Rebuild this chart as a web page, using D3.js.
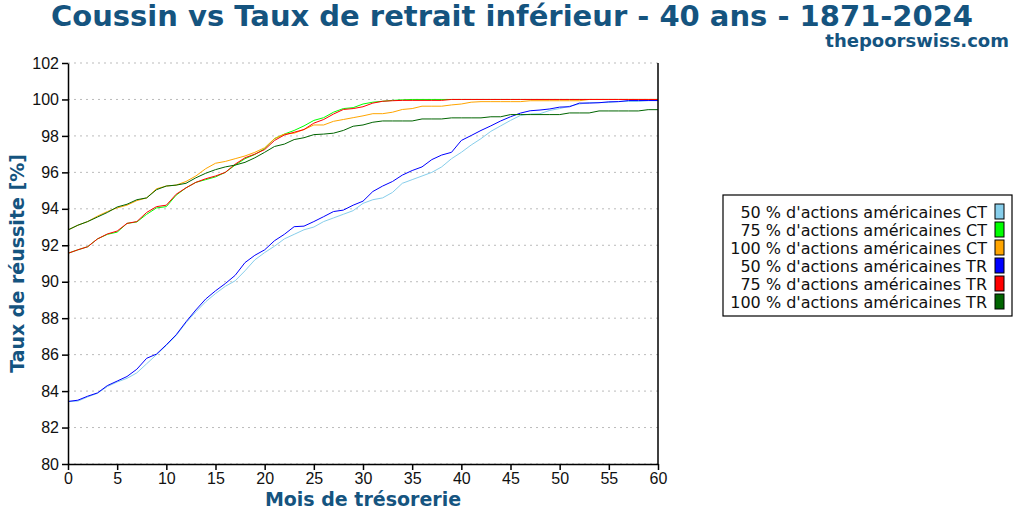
<!DOCTYPE html>
<html>
<head>
<meta charset="utf-8">
<script src="https://cdn.jsdelivr.net/npm/d3@7"></script>
<style>
  body { margin: 0; background: #fff; }
  svg { font-family: "DejaVu Sans", sans-serif; }
  .grid line { stroke: #bbb; stroke-dasharray: 2,4; }
  .axis text { font-size: 16px; fill: #111; }
  .axis path, .axis line { stroke: #000; stroke-width: 1.5; }
</style>
</head>
<body>
<div id="chart"></div>
<script>
const months = d3.range(0, 61);

const ct50 = [83.43, 83.45, 83.68, 83.88, 84.25, 84.5, 84.7, 85.0, 85.5, 86.0,
  86.5, 87.05, 87.75, 88.35, 88.9, 89.35, 89.75, 90.05, 90.6, 91.2,
  91.6, 91.95, 92.35, 92.6, 92.85, 93.0, 93.3, 93.5, 93.7, 93.9,
  94.3, 94.5, 94.6, 94.9, 95.4, 95.6, 95.8, 96.0, 96.3, 96.75,
  97.1, 97.5, 97.85, 98.25, 98.55, 98.85, 99.12, 99.2, 99.22, 99.4,
  99.5, 99.63, 99.75, 99.83, 99.83, 99.83, 99.89, 99.89, 99.89, 99.94, 99.94];
const ct75 = [91.56, 91.75, 91.92, 92.35, 92.6, 92.72, 93.2, 93.28, 93.7, 94.05,
  94.12, 94.75, 95.15, 95.45, 95.6, 95.75, 96.0, 96.4, 96.75, 96.98,
  97.3, 97.85, 98.1, 98.3, 98.55, 98.85, 99.0, 99.3, 99.5, 99.55,
  99.75, 99.85, 99.9, 99.95, 99.98, 100, 100, 100, 100, 100,
  100, 100, 100, 100, 100, 100, 100, 100, 100, 100,
  100, 100, 100, 100, 100, 100, 100, 100, 100, 100, 100];
const ct100 = [92.84, 93.1, 93.3, 93.6, 93.85, 94.05, 94.2, 94.45, 94.6, 95.1,
  95.25, 95.3, 95.5, 95.8, 96.2, 96.5, 96.6, 96.75, 96.9, 97.1,
  97.35, 97.85, 98.1, 98.15, 98.35, 98.6, 98.6, 98.8, 98.9, 99.0,
  99.1, 99.22, 99.22, 99.3, 99.45, 99.5, 99.63, 99.63, 99.63, 99.7,
  99.75, 99.85, 99.88, 99.88, 99.88, 99.88, 99.88, 99.93, 99.93, 99.93,
  99.93, 99.93, 99.93, 100, 100, 100, 100, 100, 100, 100, 100];
const tr50 = [83.43, 83.5, 83.72, 83.9, 84.3, 84.55, 84.8, 85.2, 85.8, 86.03,
  86.54, 87.09, 87.8, 88.45, 89.05, 89.5, 89.9, 90.35, 91.05, 91.45,
  91.75, 92.25, 92.6, 93.02, 93.05, 93.3, 93.57, 93.85, 93.93, 94.2,
  94.42, 94.95, 95.25, 95.5, 95.85, 96.1, 96.3, 96.7, 96.95, 97.1,
  97.75, 98.02, 98.3, 98.55, 98.82, 99.05, 99.25, 99.38, 99.42, 99.48,
  99.58, 99.6, 99.8, 99.8, 99.82, 99.87, 99.88, 99.94, 99.94, 99.94, 99.94];
const tr75 = [91.56, 91.75, 91.92, 92.35, 92.62, 92.78, 93.2, 93.3, 93.8, 94.12,
  94.2, 94.8, 95.15, 95.45, 95.65, 95.8, 96.0, 96.45, 96.8, 97.0,
  97.25, 97.75, 98.05, 98.2, 98.35, 98.7, 98.9, 99.2, 99.45, 99.5,
  99.6, 99.8, 99.9, 99.93, 99.95, 99.95, 99.95, 99.95, 99.95, 100,
  100, 100, 100, 100, 100, 100, 100, 100, 100, 100,
  100, 100, 100, 100, 100, 100, 100, 100, 100, 100, 100];
const tr100 = [92.84, 93.1, 93.3, 93.55, 93.8, 94.1, 94.25, 94.5, 94.6, 95.05,
  95.25, 95.3, 95.4, 95.7, 95.95, 96.15, 96.3, 96.4, 96.55, 96.8,
  97.1, 97.42, 97.55, 97.8, 97.9, 98.07, 98.1, 98.15, 98.3, 98.53,
  98.6, 98.75, 98.82, 98.82, 98.82, 98.82, 98.93, 98.93, 98.93, 98.99,
  98.99, 98.99, 98.99, 99.05, 99.05, 99.17, 99.17, 99.17, 99.17, 99.17,
  99.17, 99.26, 99.26, 99.26, 99.37, 99.37, 99.37, 99.37, 99.37, 99.44, 99.44];

const seriesNames = [
  "50 % d'actions américaines CT",
  "75 % d'actions américaines CT",
  "100 % d'actions américaines CT",
  "50 % d'actions américaines TR",
  "75 % d'actions américaines TR",
  "100 % d'actions américaines TR"
];
const seriesValues = [ct50, ct75, ct100, tr50, tr75, tr100];
const seriesColors = ["#87ceeb", "#00ff00", "#ffa500", "#0000ff", "#ff0000", "#006400"];

const xTicks = d3.range(0, 61, 5);
const yTicks = d3.range(80, 103, 2);

const titleText = "Coussin vs Taux de retrait inférieur - 40 ans - 1871-2024";
const siteText = "thepoorswiss.com";
const xLabel = "Mois de trésorerie";
const yLabel = "Taux de réussite [%]";
const titleColor = "#15547f";

const W = 1024, H = 512;
const margin = { top: 63, right: 366, bottom: 48, left: 68 };

const svg = d3.select("#chart").append("svg")
  .attr("width", W)
  .attr("height", H);

const x = d3.scaleLinear().domain([0, 60]).range([margin.left, W - margin.right]);
const y = d3.scaleLinear().domain([80, 102]).range([H - margin.bottom, margin.top]);

// gridlines
svg.append("g")
  .attr("class", "grid")
  .selectAll("line")
  .data(yTicks)
  .join("line")
  .attr("x1", x(0))
  .attr("x2", x(60))
  .attr("y1", d => y(d))
  .attr("y2", d => y(d));

const line = d3.line()
  .x((d, i) => x(months[i]))
  .y(d => y(d));

svg.append("g")
  .selectAll("path")
  .data(seriesValues)
  .join("path")
  .attr("fill", "none")
  .attr("stroke", (d, i) => seriesColors[i])
  .attr("stroke-width", 1)
  .attr("d", line);

// axes
svg.append("g")
  .attr("class", "axis")
  .attr("transform", "translate(0," + y(80) + ")")
  .call(d3.axisBottom(x).tickValues(xTicks).tickSize(6).tickSizeOuter(0).tickPadding(3));

svg.append("g")
  .attr("class", "axis")
  .attr("transform", "translate(" + x(0) + ",0)")
  .call(d3.axisLeft(y).tickValues(yTicks).tickSize(6).tickSizeOuter(0).tickPadding(3));

// right border
svg.append("line")
  .attr("x1", x(60)).attr("x2", x(60))
  .attr("y1", y(102)).attr("y2", y(80))
  .attr("stroke", "#000")
  .attr("stroke-width", 1.5);

// titles
svg.append("text")
  .attr("x", 512)
  .attr("y", 26)
  .attr("text-anchor", "middle")
  .attr("font-size", 29)
  .attr("font-weight", "bold")
  .attr("fill", titleColor)
  .text(titleText);

svg.append("text")
  .attr("x", 1009)
  .attr("y", 47)
  .attr("text-anchor", "end")
  .attr("font-size", 18)
  .attr("font-weight", "bold")
  .attr("fill", titleColor)
  .text(siteText);

svg.append("text")
  .attr("x", x(30))
  .attr("y", 506)
  .attr("text-anchor", "middle")
  .attr("font-size", 19)
  .attr("font-weight", "bold")
  .attr("fill", titleColor)
  .text(xLabel);

svg.append("text")
  .attr("transform", "translate(24," + y(91) + ") rotate(-90)")
  .attr("text-anchor", "middle")
  .attr("font-size", 19)
  .attr("font-weight", "bold")
  .attr("fill", titleColor)
  .text(yLabel);

// legend
const legend = svg.append("g").attr("transform", "translate(723,195)");
legend.append("rect")
  .attr("width", 289)
  .attr("height", 121)
  .attr("fill", "#fff")
  .attr("stroke", "#000")
  .attr("stroke-width", 1.2);

const rows = legend.selectAll("g.row")
  .data(seriesNames)
  .join("g")
  .attr("class", "row")
  .attr("transform", (d, i) => "translate(0," + (17 + i * 18) + ")");

rows.append("text")
  .attr("x", 264)
  .attr("y", 5.5)
  .attr("text-anchor", "end")
  .attr("font-size", 16)
  .attr("fill", "#111")
  .text(d => d);

rows.append("rect")
  .attr("x", 272)
  .attr("y", -8)
  .attr("width", 9)
  .attr("height", 15)
  .attr("fill", (d, i) => seriesColors[i])
  .attr("stroke", "#000")
  .attr("stroke-width", 1);
</script>
</body>
</html>
